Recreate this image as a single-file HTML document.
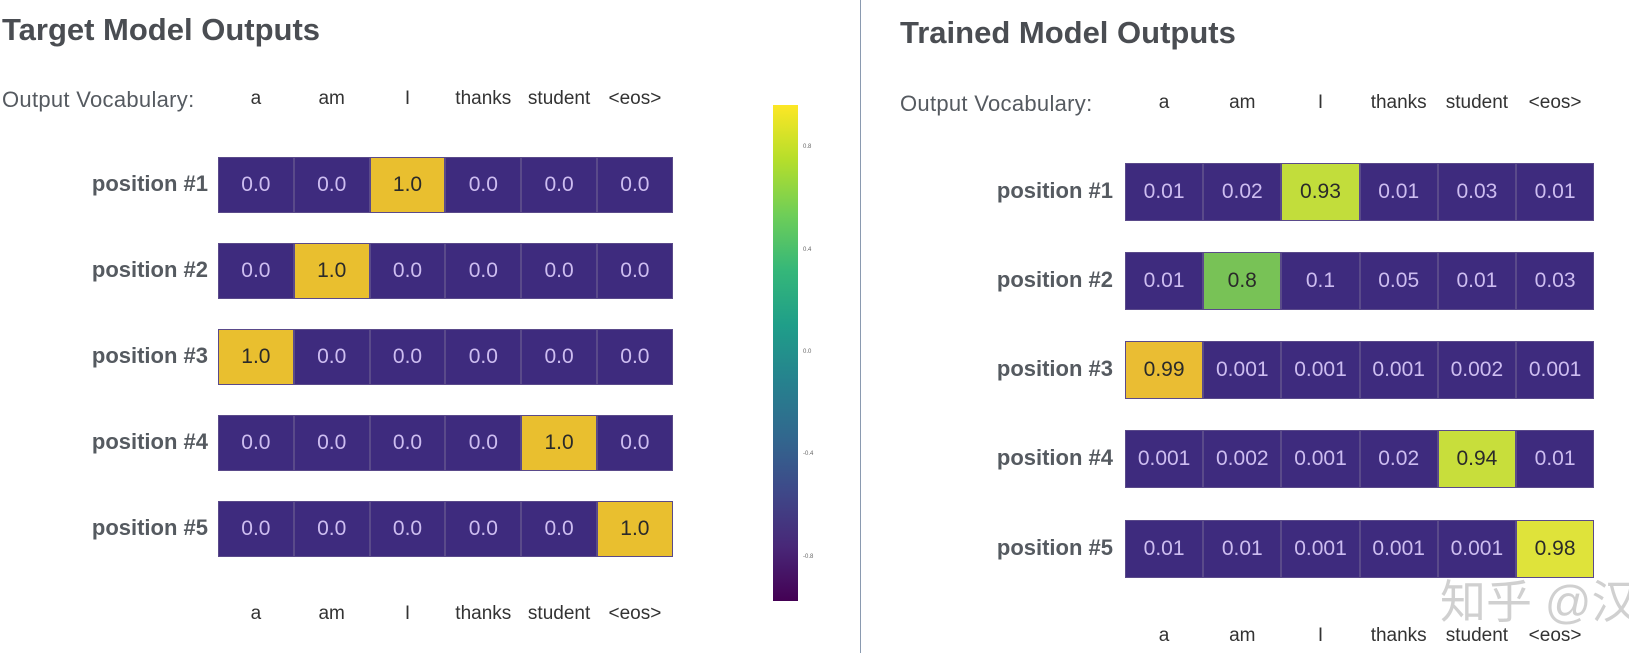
<!DOCTYPE html>
<html><head><meta charset="utf-8">
<style>
body{margin:0;background:#fff;width:1629px;height:653px;overflow:hidden;position:relative;font-family:"Liberation Sans","Noto Sans CJK SC",sans-serif;}
.t{position:absolute;white-space:nowrap;}
.title{font-size:31px;font-weight:bold;color:#4a4d52;}
.vl{font-size:22px;color:#555a60;letter-spacing:0.3px;}
.voc{font-size:19px;color:#333;transform:translateX(-50%);}
.rl{font-size:22px;font-weight:bold;color:#555a60;text-align:right;}
.cell{position:absolute;box-sizing:border-box;border:1px solid #5a4a8a;display:flex;align-items:center;justify-content:center;font-size:21px;}
</style></head><body>
<div class="t title" style="left:2px;top:12px;">Target Model Outputs</div>
<div class="t title" style="left:900px;top:15px;">Trained Model Outputs</div>
<div class="t vl" style="left:2px;top:87px;">Output Vocabulary:</div>
<div class="t vl" style="left:900px;top:91px;">Output Vocabulary:</div>
<div style="position:absolute;left:860px;top:0;width:1px;height:653px;background:#8a9ab0;"></div>
<div style="position:absolute;left:773px;top:105px;width:25px;height:496px;background:linear-gradient(to bottom,#fde725,#b5de2b,#6ece58,#35b779,#1f9e89,#26828e,#31688e,#3e4989,#482878,#440154);"></div>
<div class="t" style="left:1440px;top:566px;font-size:46px;color:#d0d0d0;">知乎 @汉</div>
<div id="root"></div>
<script>
const vocab=["a","am","I","thanks","student","<eos>"];
const rowLabels=["position #1","position #2","position #3","position #4","position #5"];
const targetValues=[[0,0,1,0,0,0],[0,1,0,0,0,0],[1,0,0,0,0,0],[0,0,0,0,1,0],[0,0,0,0,0,1]];
const targetText=[["0.0","0.0","1.0","0.0","0.0","0.0"],["0.0","1.0","0.0","0.0","0.0","0.0"],["1.0","0.0","0.0","0.0","0.0","0.0"],["0.0","0.0","0.0","0.0","1.0","0.0"],["0.0","0.0","0.0","0.0","0.0","1.0"]];
const trainedValues=[[0.01,0.02,0.93,0.01,0.03,0.01],[0.01,0.8,0.1,0.05,0.01,0.03],[0.99,0.001,0.001,0.001,0.002,0.001],[0.001,0.002,0.001,0.02,0.94,0.01],[0.01,0.01,0.001,0.001,0.001,0.98]];
const cbTicks=[0.8,0.4,0.0,-0.4,-0.8];
const cbLabels=["0.8","0.4","0.0","-0.4","-0.8"];

const stops=[[0,[62,43,126]],[0.5,[62,43,126]],[0.8,[120,194,86]],[0.93,[194,221,59]],[0.98,[223,227,58]],[0.99,[234,189,51]],[1,[233,191,47]]];
function color(v){for(let i=1;i<stops.length;i++){if(v<=stops[i][0]){const a=stops[i-1],b=stops[i];const t=(v-a[0])/((b[0]-a[0])||1);const c=a[1].map((x,k)=>Math.round(x+(b[1][k]-x)*t));return `rgb(${c})`;}}return 'rgb(233,191,47)';}
const root=document.getElementById('root');
function grid(name,vals,texts,x0,cw,rowTops,rh,labelRight,vocTop,vocBot){
  vocab.forEach((w,i)=>{
    [vocTop,vocBot].forEach((y,j)=>{
      const d=document.createElement('div');d.className='t voc';
      
      
      d.style.left=(x0+cw*(i+0.5))+'px';d.style.top=y+'px';d.textContent=w;root.appendChild(d);
    });
  });
  vals.forEach((row,r)=>{
    const l=document.createElement('div');l.className='t rl';
    
    
    l.style.right=(1629-labelRight)+'px';l.style.top=(rowTops[r]+rh/2-14)+'px';l.textContent=rowLabels[r];root.appendChild(l);
    row.forEach((v,c)=>{
      const d=document.createElement('div');d.className='cell';
      
      
      d.style.left=(x0+cw*c)+'px';d.style.top=rowTops[r]+'px';d.style.width=cw+'px';d.style.height=rh+'px';
      d.style.background=color(v);d.style.color=v>0.5?'#2a2a2a':'#cdbdf0';
      d.textContent=texts?texts[r][c]:String(v);root.appendChild(d);
    });
  });
}
grid('target',targetValues,targetText,218,75.8,[157,243,329,415,501],56,208,88,603);
grid('trained',trainedValues,null,1125,78.2,[163,252,341,430,520],58,1113,92,625);
cbTicks.forEach((t,i)=>{
  const y=105+(0.97-t)/1.94*496;
  const d=document.createElement('div');d.className='t';
  
  
  d.style.cssText=`left:803px;top:${y-4}px;font-size:6px;color:#666;`;d.textContent=cbLabels[i];root.appendChild(d);
});
</script>
</body></html>
